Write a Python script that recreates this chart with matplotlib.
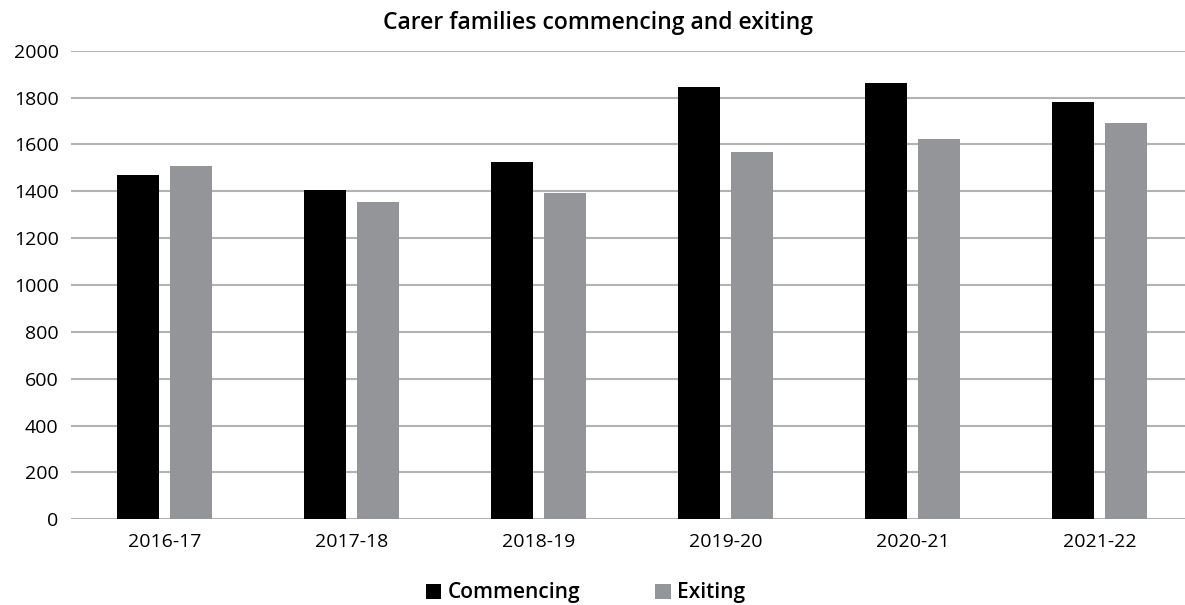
import matplotlib
matplotlib.use("Agg")
import matplotlib.pyplot as plt
import numpy as np

# ── data ─────────────────────────────────────────────────────────────────────
years      = ["2016-17", "2017-18", "2018-19", "2019-20", "2020-21", "2021-22"]
commencing = [1470, 1404, 1525, 1843, 1860, 1783]
exiting    = [1508, 1355, 1393, 1567, 1623, 1691]

BLACK = "#000000"
GREY  = "#939598"
GRID  = "#B3B3B3"

plt.rcParams["font.family"] = ["Open Sans", "DejaVu Sans"]

fig = plt.figure(figsize=(11.85, 6.05), dpi=100, facecolor="white")
ax = fig.add_axes([0.06, 0.1417, 0.94, 0.7745])

x = np.arange(len(years))
w = 0.225
ax.bar(x - 0.142, commencing, width=w, color=BLACK, label="Commencing", zorder=3)
ax.bar(x + 0.142, exiting, width=w, color=GREY, label="Exiting", zorder=3)

ax.set_xlim(-0.5, 5.457)
ax.set_ylim(0, 2000)
ax.set_yticks(range(0, 2001, 200))
ax.set_xticks(x)
ax.set_xticklabels(years)
ax.yaxis.grid(True, color=GRID, lw=1.5)
ax.set_axisbelow(True)
for s in ax.spines.values():
    s.set_visible(False)
ax.tick_params(axis="both", length=0, labelsize=14, colors="#000000")
ax.tick_params(axis="y", pad=9)
ax.tick_params(axis="x", pad=10)

fig.text(0.505, 0.962, "Carer families commencing and exiting",
         ha="center", va="center", fontsize=16.5, fontweight="semibold")

fig.legend(loc="center", bbox_to_anchor=(0.494, 0.02), ncol=2, frameon=False,
           handlelength=0.75, handleheight=0.75, handletextpad=0.3,
           columnspacing=3.6, prop={"weight": "semibold", "size": 15})

fig.savefig("out.png", dpi=100, facecolor="white")
